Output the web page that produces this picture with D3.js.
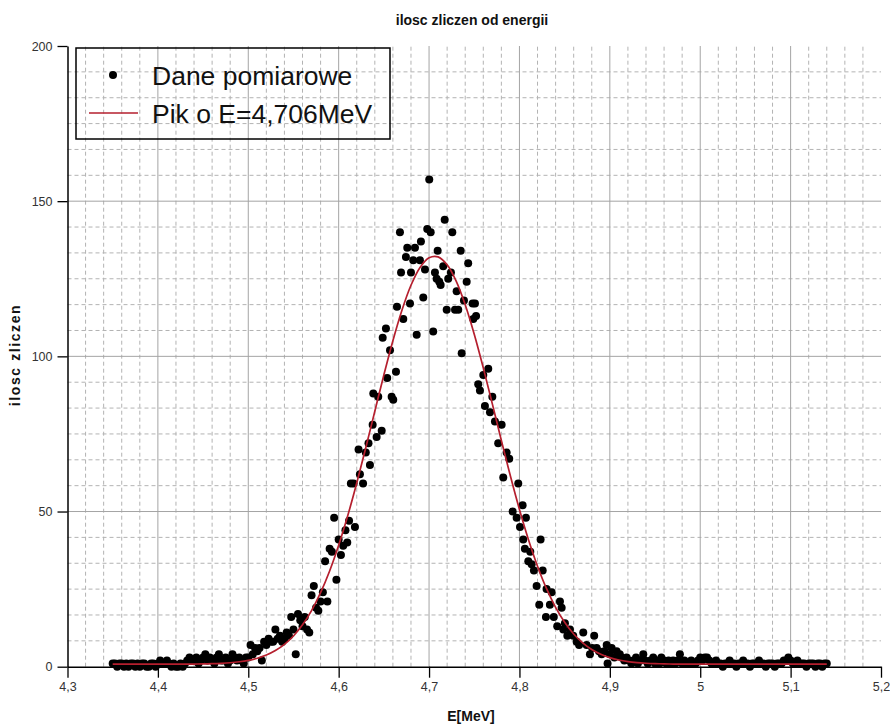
<!DOCTYPE html>
<html><head><meta charset="utf-8">
<script src="https://cdn.jsdelivr.net/npm/d3@7"></script>
<style>body{margin:0;background:#fff}</style>
</head><body>
<svg id="c" width="890" height="724"></svg>
<script>
const title = "ilosc zliczen od energii";
const xLabel = "E[MeV]";
const yLabel = "ilosc zliczen";
const legendLabels = ["Dane pomiarowe", "Pik o E=4,706MeV"];
const xTicks = [4.3, 4.4, 4.5, 4.6, 4.7, 4.8, 4.9, 5.0, 5.1, 5.2];
const xTickLabels = ["4,3","4,4","4,5","4,6","4,7","4,8","4,9","5","5,1","5,2"];
const yTicks = [0, 50, 100, 150, 200];
const yTickLabels = ["0","50","100","150","200"];

// measured points: energy [MeV]
const energyMeV = [
 4.35,4.3525,4.355,4.3575,4.36,4.3625,4.365,4.3675,4.37,4.3725,4.375,4.3775,4.38,4.3825,4.385,4.3875,4.39,4.3925,4.395,4.3975,4.4,4.4025,4.405,4.4075,4.41,4.4125,4.415,4.4175,4.42,4.4225,4.425,4.4275,4.43,
 4.4325,4.435,4.4375,4.44,4.4425,4.445,4.4475,4.45,4.4525,4.455,4.4575,4.46,4.4625,4.465,4.4675,4.47,4.4725,4.475,4.4775,4.48,4.4825,4.485,4.4875,4.49,4.4925,4.495,4.4975,
 4.5,4.5025,4.505,4.5075,4.51,4.5125,4.515,4.5175,4.52,4.5225,4.525,4.5275,4.53,4.5325,4.535,4.5375,4.54,4.5425,4.545,4.5475,4.55,4.5525,4.555,4.5575,4.56,4.5625,4.565,4.5675,4.57,4.5725,4.575,4.5775,4.58,4.5825,4.585,4.5875,4.59,4.5925,4.595,4.5975,4.6,
 4.6025,4.605,4.6075,4.6095,4.6115,4.6135,4.6165,4.618,4.622,4.6235,4.627,4.63,4.633,4.6346,4.6376,4.6383,4.642,4.6438,4.6476,4.6487,4.6523,4.6537,4.6568,4.6586,4.6604,4.6634,
 4.6645,4.6678,4.669,4.6715,4.6744,4.6759,4.6789,4.68,4.6825,4.6844,4.6863,4.6899,4.691,4.6936,4.6955,4.698,4.7002,4.7018,4.7046,4.7065,4.7084,4.7095,4.7113,4.7128,4.7157,4.7173,4.7195,4.7212,4.7242,4.7257,4.7287,4.7305,4.7323,4.735,4.7361,4.7386,4.7416,4.7433,4.7482,4.7489,4.7508,4.752,
 4.7544,4.7563,4.76,4.7618,4.7655,4.7674,4.77,4.7729,4.7765,4.7803,4.7821,4.7858,4.7887,4.7925,4.7969,4.7987,4.8006,4.8035,4.8042,4.806,4.8072,4.8098,4.812,4.8135,4.816,4.819,4.8219,4.8234,4.8257,4.8293,4.83,4.8337,4.8356,4.838,4.8418,4.8448,4.8467,4.8485,4.8503,4.853,4.8559,4.8595,4.8633,4.866,4.8706,4.8743,4.878,4.8805,4.8827,4.8854,4.888,4.891,4.894,4.8965,4.8975,4.9,4.902,4.905,4.9075,4.911,4.913,4.916,4.9186,
 4.921,4.924,4.926,4.929,4.931,4.934,4.937,4.939,4.942,4.945,
 4.948,4.95,4.953,4.955,4.957,4.96,4.9625,4.965,4.9675,4.97,
 4.9725,4.975,4.9775,4.98,4.9825,4.985,4.9875,4.99,4.9925,4.995,
 4.9975,5,5.0025,5.005,5.0075,5.01,5.0125,5.015,5.0175,5.02,
 5.0225,5.025,5.0275,5.03,5.0325,5.035,5.0375,5.04,5.0425,5.045,
 5.0475,5.05,5.0525,5.055,5.0575,5.06,5.0625,5.065,5.0675,5.07,
 5.0725,5.075,5.0775,5.08,5.0825,5.085,5.0875,5.09,5.0925,5.095,
 5.0975,5.1,5.1025,5.105,5.1075,5.11,5.1125,5.115,5.1175,5.12,
 5.1225,5.125,5.1275,5.13,5.1325,5.135,5.1375,5.14
];
// measured points: counts
const counts = [
 1,1,0,1,1,0,1,0,1,1,0,1,0,1,1,0,0,1,1,0,1,2,1,1,2,1,0,1,0,0,1,0,1,
 2,3,2,2,3,1,2,3,4,2,3,2,1,3,4,2,2,3,1,2,4,3,2,3,2,1,3,
 3,7,4,6,5,6,2,8,7,9,8,8,12,9,10,8,9,11,10,16,12,4,17,15,13,16,12,11,23,26,19,18,21,24,34,21,38,37,48,28,41,
 36,39,44,40,47,59,59,45,70,62,59,69,72,65,78,88,74,87,76,106,109,93,102,87,86,95,
 116,140,127,112,132,135,117,127,131,135,107,131,137,119,128,141,157,140,108,127,125,134,124,123,129,144,115,125,127,140,115,121,115,134,101,118,124,130,117,112,117,113,
 91,89,94,84,96,82,87,79,72,78,61,69,67,50,48,59,45,52,41,38,48,34,37,33,31,26,20,41,31,16,25,20,24,16,13,21,19,12,14,10,12,10,8,7,11,7,4,6,10,6,5,4,5,7,1,4,6,3,5,4,3,2,3,
 2,1,2,3,1,2,4,2,1,2,
 3,1,2,1,3,2,1,2,1,2,
 1,2,4,1,2,1,1,2,1,1,
 2,3,2,3,3,2,1,1,2,1,
 1,0,1,1,2,1,1,0,1,1,
 2,1,1,0,1,1,1,2,1,1,
 0,1,1,1,0,1,1,1,2,2,
 3,2,1,1,2,1,1,1,0,1,
 1,1,0,1,1,0,1,1
];

// fitted peak curve
const fitEnergy = [
 4.35,4.36,4.37,4.38,4.39,4.40,4.41,4.42,4.43,4.44,4.45,4.46,4.47,4.48,4.49,
 4.50,4.51,4.52,4.53,4.54,4.55,4.56,4.57,4.58,4.59,4.60,4.61,4.62,4.63,4.64,
 4.65,4.66,4.67,4.68,4.69,4.70,4.71,4.72,4.73,4.74,4.75,4.76,4.77,4.78,4.79,
 4.80,4.81,4.82,4.83,4.84,4.85,4.86,4.87,4.88,4.89,4.90,4.91,4.92,4.93,4.94,
 4.95,4.96,4.97,4.98,4.99,5.00,5.01,5.02,5.03,5.04,5.05,5.06,5.07,5.08,5.09,
 5.10,5.11,5.12,5.13,5.14
];
const fitCounts = [
 0.80,0.80,0.80,0.80,0.80,0.80,0.81,0.82,0.83,0.86,0.90,0.97,1.09,1.28,1.59,
 2.05,2.74,3.75,5.19,7.19,9.90,13.48,18.08,23.84,30.84,39.12,48.63,59.20,70.56,82.33,
 94.01,105.05,114.86,122.90,128.66,131.78,132.07,129.50,124.24,116.63,107.13,96.28,84.70,72.90,61.42,
 50.67,40.93,32.39,25.13,19.13,14.31,10.54,7.67,5.54,4.00,2.91,2.17,1.66,1.33,1.12,
 0.99,0.91,0.86,0.83,0.82,0.81,0.80,0.80,0.80,0.80,0.80,0.80,0.80,0.80,0.80,
 0.80,0.80,0.80,0.80,0.80
];

const svg = d3.select("#c");
const X0 = 67.5, X1 = 881, Y0 = 666.7, Y1 = 46;
const x = d3.scaleLinear().domain([4.3, 5.2]).range([X0, X1]);
const y = d3.scaleLinear().domain([0, 200]).range([Y0, Y1]);
const narrow = "'Liberation Sans Narrow','Arial Narrow','Liberation Sans',Arial,sans-serif";
const sans = "'Liberation Sans',Arial,sans-serif";

const xMinor = d3.range(1, 45).filter(i => i % 5 !== 0).map(i => 4.3 + i * 0.02);
const yMinor = d3.range(1, 24).filter(i => i % 6 !== 0).map(i => i * 50 / 6);
const xMajorGrid = xTicks.slice(1, -1);
const yMajorGrid = yTicks.slice(1, -1);

const grid = svg.append("g");
grid.selectAll(".vmin").data(xMinor).join("line")
  .attr("x1", d => x(d)).attr("x2", d => x(d)).attr("y1", Y0).attr("y2", Y1)
  .attr("stroke", "#b3b3b3").attr("stroke-width", 1).attr("stroke-dasharray", "4,3");
grid.selectAll(".hmin").data(yMinor).join("line")
  .attr("x1", X0).attr("x2", X1).attr("y1", d => y(d)).attr("y2", d => y(d))
  .attr("stroke", "#b3b3b3").attr("stroke-width", 1).attr("stroke-dasharray", "4,3");
grid.selectAll(".vmaj").data(xMajorGrid).join("line")
  .attr("x1", d => x(d)).attr("x2", d => x(d)).attr("y1", Y0).attr("y2", Y1)
  .attr("stroke", "#a4a4a4").attr("stroke-width", 1);
grid.selectAll(".hmaj").data(yMajorGrid).join("line")
  .attr("x1", X0).attr("x2", X1).attr("y1", d => y(d)).attr("y2", d => y(d))
  .attr("stroke", "#a4a4a4").attr("stroke-width", 1);

// data points
const pts = energyMeV.map((e, i) => [e, counts[i]]);
svg.append("g").selectAll("circle").data(pts).join("circle")
  .attr("cx", d => x(d[0])).attr("cy", d => y(d[1])).attr("r", 4).attr("fill", "#000");

// fit curve
const fit = fitEnergy.map((e, i) => [e, fitCounts[i]]);
svg.append("path").datum(fit)
  .attr("d", d3.line().x(d => x(d[0])).y(d => y(d[1])).curve(d3.curveCatmullRom))
  .attr("fill", "none").attr("stroke", "#b51f2e").attr("stroke-width", 1.7);

// axes
const gx = svg.append("g").attr("transform", `translate(0,${Y0})`);
gx.call(d3.axisBottom(x).tickValues(xMinor).tickSize(6).tickSizeOuter(0).tickFormat(""));
gx.call(d3.axisBottom(x).tickValues(xTicks).tickSize(11).tickSizeOuter(0).tickPadding(4)
  .tickFormat((d, i) => xTickLabels[i]));
gx.selectAll("path.domain").attr("stroke", "#000").attr("stroke-width", 1.5);
gx.selectAll("line").attr("stroke", "#000").attr("stroke-width", 1.3);
gx.selectAll("text").attr("font-family", narrow).attr("font-size", 12.5).attr("fill", "#333");

const gy = svg.append("g").attr("transform", `translate(${X0},0)`);
gy.call(d3.axisLeft(y).tickValues(yMinor).tickSize(6).tickSizeOuter(0).tickFormat(""));
gy.call(d3.axisLeft(y).tickValues(yTicks).tickSize(10).tickSizeOuter(0).tickPadding(5)
  .tickFormat((d, i) => yTickLabels[i]));
gy.selectAll("path.domain").attr("stroke", "#000").attr("stroke-width", 1.5);
gy.selectAll("line").attr("stroke", "#000").attr("stroke-width", 1.3);
gy.selectAll("text").attr("font-family", narrow).attr("font-size", 12.5).attr("fill", "#333");

// titles
svg.append("text").attr("x", 472).attr("y", 25).attr("text-anchor", "middle")
  .attr("font-family", narrow).attr("font-weight", "bold").attr("font-size", 14).attr("fill", "#111")
  .text(title);
svg.append("text").attr("x", 471).attr("y", 721).attr("text-anchor", "middle")
  .attr("font-family", narrow).attr("font-weight", "bold").attr("font-size", 14).attr("fill", "#111")
  .text(xLabel);
svg.append("text").attr("transform", "translate(20,355) rotate(-90)").attr("text-anchor", "middle")
  .attr("font-family", narrow).attr("font-weight", "bold").attr("font-size", 14).attr("fill", "#111")
  .attr("letter-spacing", 1.6)
  .text(yLabel);

// legend
const lg = svg.append("g");
lg.append("rect").attr("x", 76).attr("y", 48).attr("width", 314).attr("height", 91)
  .attr("fill", "none").attr("stroke", "#000").attr("stroke-width", 1.5);
lg.append("circle").attr("cx", 113).attr("cy", 75).attr("r", 4).attr("fill", "#000");
lg.append("line").attr("x1", 89).attr("x2", 138).attr("y1", 113).attr("y2", 113)
  .attr("stroke", "#b51f2e").attr("stroke-width", 1.3);
lg.append("text").attr("x", 152).attr("y", 85).attr("font-family", sans).attr("font-size", 26.5)
  .attr("fill", "#111").text(legendLabels[0]);
lg.append("text").attr("x", 152).attr("y", 123).attr("font-family", sans).attr("font-size", 26.5)
  .attr("fill", "#111").text(legendLabels[1]);
</script>
</body></html>
